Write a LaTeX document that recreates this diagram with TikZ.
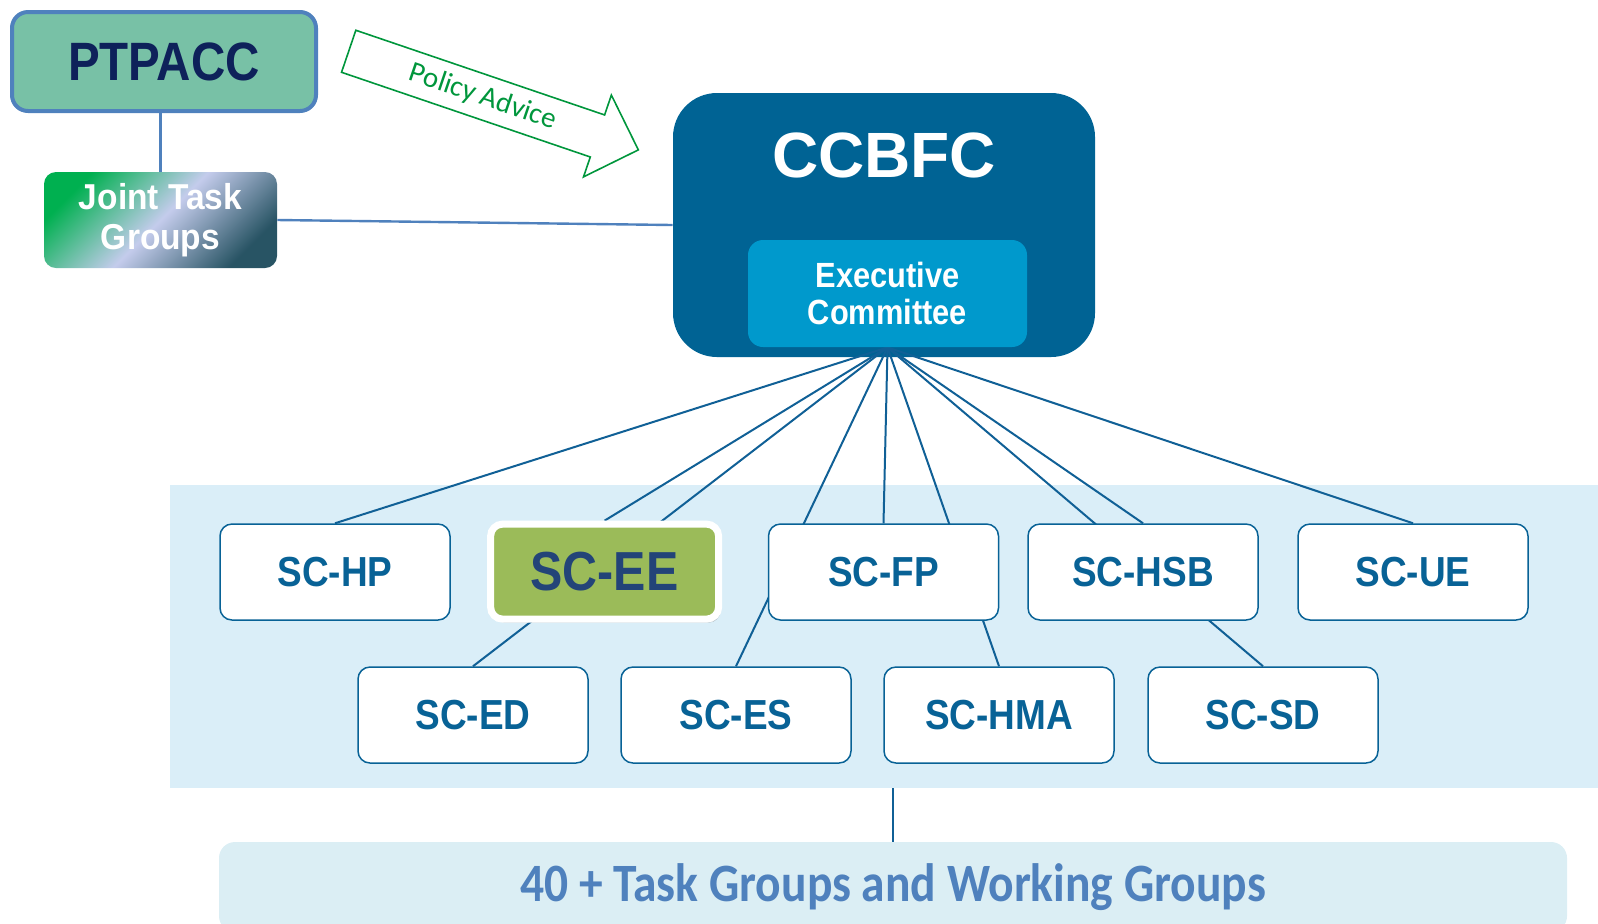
\documentclass[tikz,border=0pt]{standalone}
\usepackage{fontspec}
\setmainfont{Liberation Sans}
\newfontfamily\narrowfont[FakeStretch=0.88]{Liberation Sans}
\newfontfamily\midfont[FakeStretch=0.93]{Liberation Sans}
\newfontfamily\calibrifont{Carlito}
\newfontfamily\narrowcalibri[FakeStretch=0.88]{Carlito}
\usetikzlibrary{shapes.arrows,shadows}

\definecolor{ptgreen}{RGB}{120,193,166}
\definecolor{ptborder}{RGB}{79,129,189}
\definecolor{navy}{RGB}{14,33,90}
\definecolor{ccblue}{RGB}{0,99,148}
\definecolor{execblue}{RGB}{0,153,204}
\definecolor{bandblue}{RGB}{218,238,248}
\definecolor{scblue}{RGB}{8,98,150}
\definecolor{linkblue}{RGB}{16,96,150}
\definecolor{eegreen}{RGB}{155,187,89}
\definecolor{eetext}{RGB}{35,68,120}
\definecolor{advicegreen}{RGB}{0,150,60}
\definecolor{groupfill}{RGB}{219,238,244}
\definecolor{grouptext}{RGB}{79,129,189}
\definecolor{jtggreen}{RGB}{0,176,80}
\definecolor{jtgmid}{RGB}{196,204,236}
\definecolor{jtgdark}{RGB}{40,84,100}

\pgfdeclarelayer{back}
\pgfdeclarelayer{links}
\pgfsetlayers{back,links,main}

\tikzset{
  scbox/.style={draw=scblue, line width=0.75pt, fill=white, rounded corners=6pt,
    minimum width=115pt, minimum height=48pt, inner sep=0pt, text=scblue,
    font=\narrowfont\bfseries\fontsize{21}{21}\selectfont},
  eebox/.style={scbox, draw=white, line width=3.5pt, fill=eegreen,
    minimum width=114pt, minimum height=47.5pt, text=eetext,
    font=\narrowfont\bfseries\fontsize{27.5}{27.5}\selectfont,
    drop shadow={opacity=0.4, shadow xshift=1pt, shadow yshift=-1.8pt}},
  link/.style={draw=linkblue, line width=1pt},
  feed/.style={draw=ptborder, line width=1.2pt}
}

\begin{document}
\begin{tikzpicture}[x=0.5pt,y=-0.5pt]
\useasboundingbox (0,0) rectangle (1598,923);

\begin{pgfonlayer}{back}
\node[fill=bandblue, minimum width=714pt, minimum height=151.5pt, inner sep=0pt] (band) at (884,636.5) {};
\node[fill=ccblue, rounded corners=22pt, minimum width=211pt, minimum height=132pt] (ccbfc) at (884,225) {};
\end{pgfonlayer}

% top part
\node[text=white, font=\bfseries\fontsize{32}{32}\selectfont] (ccbfctitle) at (884,155) {CCBFC};
\node[fill=execblue, rounded corners=7.5pt, minimum width=139.5pt, minimum height=53.5pt, inner sep=0pt,
  text=white, align=center, font=\narrowfont\bfseries\fontsize{17.5}{18.5}\selectfont] (exec) at (887.5,293.5) {Executive\\Committee};
\node[draw=ptborder, line width=2pt, fill=ptgreen, rounded corners=8pt, minimum width=152pt, minimum height=49.5pt,
  text=navy, font=\narrowfont\bfseries\fontsize{27}{27}\selectfont] (ptpacc) at (164,61.5) {PTPACC};
\node[rounded corners=6pt, top color=jtggreen, bottom color=jtgdark, middle color=jtgmid, shading angle=45,
  minimum width=116.5pt, minimum height=48pt, inner sep=0pt, text=white, align=center,
  font=\midfont\bfseries\fontsize{18}{20}\selectfont] (jtg) at (160.5,220) {Joint Task\\Groups};
\node[single arrow, draw=advicegreen, line width=0.8pt, fill=white, rotate=-18.8, minimum height=153pt,
  single arrow head extend=10.5pt, inner ysep=4.5pt, text=advicegreen,
  font=\calibrifont\fontsize{14.5}{14.5}\selectfont] (advice) at (483,97) {Policy Advice};

\draw[feed] (jtg.north) -- (jtg.north |- ptpacc.south);
\draw[feed] (jtg.east) -- (ccbfc.west);

% sub-committees
\node[scbox] (schp) at (335,572) {SC-HP};
\node[eebox] (scee) at (604.6,571.6) {SC-EE};
\node[scbox] (scfp) at (883.5,572) {SC-FP};
\node[scbox] (schsb) at (1143,572) {SC-HSB};
\node[scbox] (scue) at (1413,572) {SC-UE};
\node[scbox] (sced) at (473,715) {SC-ED};
\node[scbox] (sces) at (736,715) {SC-ES};
\node[scbox] (schma) at (999,715) {SC-HMA};
\node[scbox] (scsd) at (1263,715) {SC-SD};

\begin{pgfonlayer}{links}
\draw[link] (exec.south) edge (schp.north);
\draw[link] (exec.south) edge (scee.north);
\draw[link] (exec.south) edge (scfp.north);
\draw[link] (exec.south) edge (schsb.north);
\draw[link] (exec.south) edge (scue.north);
\draw[link] (exec.south) edge (sced.north);
\draw[link] (exec.south) edge (sces.north);
\draw[link] (exec.south) edge (schma.north);
\draw[link] (exec.south) edge (scsd.north);
\end{pgfonlayer}

% working groups
\node[fill=groupfill, rounded corners=8pt, minimum width=674pt, minimum height=45pt, text=grouptext,
  font=\narrowcalibri\bfseries\fontsize{27}{27}\selectfont] (groups) at (893,887) {40 + Task Groups and Working Groups};
\draw[link] (groups.north) -- (groups.north |- band.south);
\end{tikzpicture}
\end{document}
